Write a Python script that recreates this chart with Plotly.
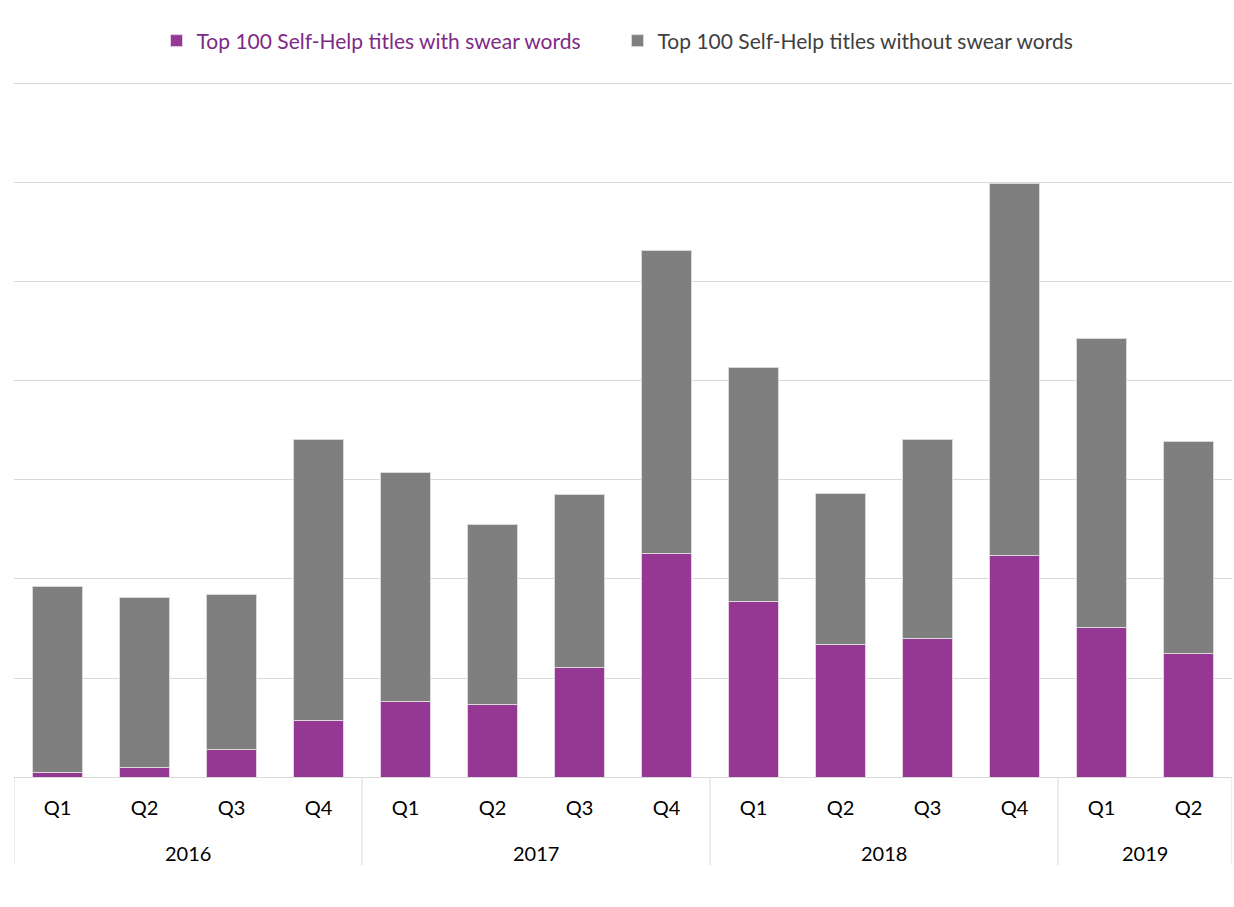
import plotly.graph_objects as go

years = ["2016"] * 4 + ["2017"] * 4 + ["2018"] * 4 + ["2019"] * 2
quarters = ["Q1", "Q2", "Q3", "Q4", "Q1", "Q2", "Q3", "Q4", "Q1", "Q2", "Q3", "Q4", "Q1", "Q2"]
with_swear = [0.05, 0.10, 0.28, 0.57, 0.76, 0.73, 1.11, 2.26, 1.77, 1.34, 1.40, 2.24, 1.51, 1.25]
totals = [1.92, 1.81, 1.84, 3.41, 3.08, 2.55, 2.85, 5.32, 4.14, 2.86, 3.41, 5.99, 4.43, 3.39]
without_swear = [round(t - w, 2) for t, w in zip(totals, with_swear)]

purple = "#943894"
gray = "#7F7F7F"
grid = "#D9D9D9"

xpos = list(range(len(quarters)))

fig = go.Figure()
fig.add_trace(go.Bar(
    x=xpos, y=with_swear,
    name="<span style='color:#7E2A86'>Top 100 Self-Help titles with swear words</span>",
    marker=dict(color=purple, line=dict(color="#E6D0E6", width=1)),
))
fig.add_trace(go.Bar(
    x=xpos, y=without_swear,
    name="<span style='color:#404040'>Top 100 Self-Help titles without swear words</span>",
    marker=dict(color=gray, line=dict(color=grid, width=1)),
))

# year group labels and dividers, derived from the data
groups = []
for i, yr in enumerate(years):
    if not groups or groups[-1][0] != yr:
        groups.append([yr, i, i])
    else:
        groups[-1][2] = i

top_m, bot_m = 82, 130
plot_h = 907 - top_m - bot_m
div_len = 88 / plot_h
for yr, a, b in groups:
    fig.add_annotation(x=(a + b) / 2, y=-76 / plot_h, xref="x", yref="paper",
                       text=yr, showarrow=False, font=dict(size=20, color="#000000"),
                       yanchor="middle")
    fig.add_shape(type="line", xref="x", yref="paper", x0=a - 0.5, x1=a - 0.5,
                  y0=0, y1=-div_len, line=dict(color=grid, width=1))
fig.add_shape(type="line", xref="x", yref="paper", x0=groups[-1][2] + 0.5, x1=groups[-1][2] + 0.5,
              y0=0, y1=-div_len, line=dict(color=grid, width=1))

fig.update_layout(
    width=1234, height=907,
    barmode="stack", bargap=0.43,
    plot_bgcolor="white", paper_bgcolor="white",
    margin=dict(l=14, r=2, t=top_m, b=bot_m, autoexpand=False),
    font=dict(family="Lato, Open Sans, sans-serif", size=20, color="#000000"),
    legend=dict(orientation="h", x=0.4955, xanchor="center", y=1 - 41 / 907, yref="container",
                yanchor="middle", font=dict(size=21), traceorder="normal", itemwidth=30,
                entrywidth=416, entrywidthmode="pixels"),
    showlegend=True,
)
fig.update_yaxes(range=[0, 7.02], dtick=1, showgrid=True, gridcolor=grid, gridwidth=1,
                 showticklabels=False, zeroline=False, showline=False, automargin=False)
fig.update_xaxes(range=[-0.5, len(quarters) - 0.5], tickmode="array", tickvals=xpos, ticktext=quarters,
                 showline=True, linecolor=grid, linewidth=1, showgrid=False, zeroline=False,
                 ticks="outside", ticklen=13, tickcolor="rgba(0,0,0,0)",
                 tickfont=dict(size=20, color="#000000"), automargin=False)
fig.write_html("out.html", config={"displayModeBar": False},
               post_script="document.body.style.margin='0';document.body.style.padding='0';document.body.style.overflow='hidden';")
